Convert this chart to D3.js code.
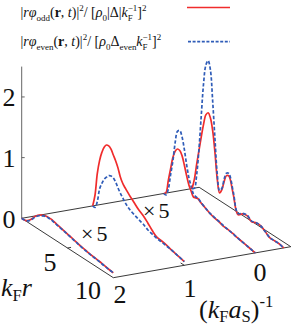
<!DOCTYPE html>
<html>
<head>
<meta charset="utf-8">
<script src="https://cdn.jsdelivr.net/npm/d3@7"></script>
<style>
body { margin: 0; background: #fff; }
svg { display: block; }
text { font-family: "Liberation Serif", "Times New Roman", serif; fill: #111; }
</style>
</head>
<body>
<svg id="chart" width="291" height="325"></svg>
<script>
// kF r samples shared by every slice
const kfr = [0, 0.25, 0.5, 0.75, 1, 1.25, 1.5, 1.75, 2, 2.25, 2.5, 2.75, 3, 3.25, 3.5, 3.75,
	4, 4.5, 5, 5.5, 6, 6.5, 7, 7.5, 8, 8.5, 9, 9.5, 10];

// (kF aS)^-1 of each slice
const slices = [2, 1, 0, -0.4];

// |r phi_odd|^2 (red) and |r phi_even|^2 (blue) per slice
const odd2 = [0, 0, 0.01, 0.04, 0.08, 0.13, 0.18, 0.22, 0.25, 0.27, 0.29, 0.3, 0.3, 0.3, 0.29, 0.28,
	0.27, 0.25, 0.23, 0.21, 0.19, 0.17, 0.155, 0.14, 0.13, 0.12, 0.105, 0.09, 0.08];
const even2 = [0, 0, 0.01, 0.03, 0.07, 0.12, 0.17, 0.21, 0.24, 0.26, 0.28, 0.29, 0.29, 0.29, 0.28, 0.27,
	0.26, 0.245, 0.225, 0.205, 0.185, 0.165, 0.15, 0.135, 0.125, 0.115, 0.1, 0.09, 0.08];
const odd1 = [0, 0.2, 0.58, 0.82, 0.98, 1.09, 1.15, 1.16, 1.13, 1.06, 0.99, 0.9, 0.78, 0.7, 0.65, 0.61,
	0.57, 0.5, 0.43, 0.38, 0.31, 0.23, 0.17, 0.16, 0.145, 0.12, 0.1, 0.08, 0.06];
const even1 = [0, 0, 0.12, 0.35, 0.47, 0.56, 0.62, 0.67, 0.69, 0.68, 0.64, 0.57, 0.51, 0.46, 0.41, 0.37,
	0.34, 0.3, 0.27, 0.24, 0.195, 0.17, 0.15, 0.14, 0.13, 0.12, 0.1, 0.08, 0.06];
const odd0 = [0, 0.04, 0.26, 0.48, 0.69, 0.82, 0.88, 0.88, 0.82, 0.69, 0.54, 0.41, 0.33, 0.26, 0.27, 0.28,
	0.25, 0.21, 0.17, 0.14, 0.13, 0.1, 0.095, 0.08, 0.06, 0.045, 0.03, 0.015, 0];
const even0 = [0, 0, 0.12, 0.38, 0.63, 0.96, 1.17, 1.21, 1.13, 0.95, 0.72, 0.53, 0.41, 0.31, 0.29, 0.29,
	0.26, 0.21, 0.17, 0.15, 0.13, 0.11, 0.09, 0.08, 0.06, 0.045, 0.03, 0.015, 0];
const oddM = [0, 0.18, 0.45, 0.7, 0.95, 1.18, 1.36, 1.42, 1.36, 1.17, 0.83, 0.42, 0.22, 0.3, 0.46, 0.58,
	0.6, 0.34, 0.06, 0.12, 0.14, 0.09, 0.12, 0.12, 0.07, 0.02, 0.02, 0.02, 0];
const evenM = [0, 0.03, 0.28, 0.72, 1.3, 1.85, 2.18, 2.28, 2.15, 1.65, 1.05, 0.5, 0.26, 0.32, 0.5, 0.62,
	0.64, 0.38, 0.08, 0.13, 0.15, 0.1, 0.12, 0.12, 0.07, 0.02, 0.02, 0.02, 0];

const oddSeries = [odd2, odd1, odd0, oddM];
const evenSeries = [even2, even1, even0, evenM];

const zTicks = [0, 1, 2];
const kTicks = [5, 10];
const aTicks = [2, 1, 0];
const scaleNotes = ['\u00d75', '\u00d75'];

const RED = '#f02c2c';
const BLUE = '#2f5cb8';

const svg = d3.select('#chart');

// oblique projection: kF r runs down-right, (kF aS)^-1 runs up-right, value goes up
const origin = [21.7, 218.3];
const kx = d3.scaleLinear().domain([0, 10]).range([0, 91.6]);
const ky = d3.scaleLinear().domain([0, 10]).range([0, 59.4]);
const ax = d3.scaleLinear().domain([2, -0.5]).range([0, 177.5]);
const ay = d3.scaleLinear().domain([2, -0.5]).range([0, -31]);
const zy = d3.scaleLinear().domain([0, 2.5]).range([0, -151.7]);

function project(k, a, z) {
	return [origin[0] + kx(k) + ax(a), origin[1] + ky(k) + ay(a) + zy(z)];
}

// base plane
const corners = [[0, 2], [0, -0.5], [10, -0.5], [10, 2], [0, 2]];
svg.append('path')
	.attr('d', d3.line()(corners.map(c => project(c[0], c[1], 0))))
	.attr('fill', 'none')
	.attr('stroke', '#222')
	.attr('stroke-width', 0.9);

// vertical axis
svg.append('path')
	.attr('d', d3.line()([project(0, 2, 0), project(0, 2, 2.5)]))
	.attr('stroke', '#555')
	.attr('stroke-width', 0.9);

svg.selectAll('.ztick')
	.data(zTicks.filter(d => d > 0))
	.enter()
	.append('line')
	.attr('x1', d => project(0, 2, d)[0])
	.attr('x2', d => project(0, 2, d)[0] + 3)
	.attr('y1', d => project(0, 2, d)[1])
	.attr('y2', d => project(0, 2, d)[1])
	.attr('stroke', '#555')
	.attr('stroke-width', 0.9);

svg.selectAll('.zlabel')
	.data(zTicks)
	.enter()
	.append('text')
	.attr('x', 15.5)
	.attr('y', d => project(0, 2, d)[1] + 9.5)
	.attr('text-anchor', 'end')
	.attr('font-size', 26)
	.text(d => d);

// small ticks on the floor
svg.selectAll('.ktick')
	.data(kTicks.filter(d => d < 10))
	.enter()
	.append('path')
	.attr('d', d => d3.line()([project(d, 2, 0), project(d, 1.95, 0)]))
	.attr('stroke', '#222')
	.attr('stroke-width', 0.9);

svg.selectAll('.atick')
	.data(aTicks.filter(d => d < 2))
	.enter()
	.append('path')
	.attr('d', d => d3.line()([project(10, d, 0), project(9.6, d, 0)]))
	.attr('stroke', '#222')
	.attr('stroke-width', 0.9);

// floor labels
const kLabelPos = {5: [50, 271], 10: [88, 299]};
svg.selectAll('.klabel')
	.data(kTicks)
	.enter()
	.append('text')
	.attr('x', d => kLabelPos[d][0])
	.attr('y', d => kLabelPos[d][1])
	.attr('text-anchor', 'middle')
	.attr('font-size', 26)
	.text(d => d);

const aLabelPos = {2: [120, 303], 1: [190, 297], 0: [260, 281]};
svg.selectAll('.alabel')
	.data(aTicks)
	.enter()
	.append('text')
	.attr('x', d => aLabelPos[d][0])
	.attr('y', d => aLabelPos[d][1])
	.attr('text-anchor', 'middle')
	.attr('font-size', 26)
	.text(d => d);

// rich text helper: parts of [text, style, position, dx]
function rich(sel, parts, size, subDrop) {
	const subSize = size * 0.64;
	const drop = subDrop === undefined ? 0.28 : subDrop;
	let shift = 0;
	parts.forEach(p => {
		const pos = p[2] || 'base';
		const target = pos === 'sub' ? size * drop : pos === 'sup' ? -size * 0.42 : 0;
		const ts = sel.append('tspan')
			.attr('dy', target - shift)
			.attr('font-size', pos === 'base' ? size : subSize)
			.text(p[0]);
		if (p[1] === 'i') ts.attr('font-style', 'italic');
		if (p[1] === 'b') ts.attr('font-weight', 'bold');
		if (p[3]) ts.attr('dx', p[3]);
		shift = target;
	});
}

rich(svg.append('text').attr('x', 1).attr('y', 296), [
	['k', 'i'], ['F', 'n', 'sub'], ['r', 'i']
], 26, 0.2);

rich(svg.append('text').attr('x', 199).attr('y', 318), [
	['(', 'n'], ['k', 'i'], ['F', 'n', 'sub'], ['a', 'i'], ['S', 'n', 'sub'], [')', 'n'], ['-1', 'n', 'sup']
], 26, 0.17);

// curves
const line = d3.line().curve(d3.curveCatmullRom.alpha(0.5));

slices.forEach((a, i) => {
	svg.append('path')
		.attr('d', line(kfr.map((k, j) => project(k, a, oddSeries[i][j]))))
		.attr('fill', 'none')
		.attr('stroke', RED)
		.attr('stroke-width', 1.7);
	svg.append('path')
		.attr('d', line(kfr.map((k, j) => project(k, a, evenSeries[i][j]))))
		.attr('fill', 'none')
		.attr('stroke', BLUE)
		.attr('stroke-width', 1.7)
		.attr('stroke-dasharray', '3.5,2');
});

// x5 notes
const notePos = [[81, 241], [143, 218]];
svg.selectAll('.note')
	.data(scaleNotes)
	.enter()
	.append('text')
	.attr('x', (d, i) => notePos[i][0])
	.attr('y', (d, i) => notePos[i][1])
	.attr('font-size', 22)
	.attr('letter-spacing', 3)
	.text(d => d);

// legend
const leg1 = svg.append('text').attr('x', 20.5).attr('y', 17);
rich(leg1, [
	['|', 'n'], ['r', 'i'], ['\u03c6', 'i'], ['odd', 'n', 'sub'], ['(', 'n'], ['r', 'b'], [', ', 'n'], ['t', 'i'],
	[')|', 'n'], ['2', 'n', 'sup'], ['/ [', 'n'], ['\u03c1', 'i'], ['0', 'n', 'sub'], ['|\u0394|', 'n'],
	['k', 'i'], ['F', 'n', 'sub'], ['\u22121', 'n', 'sup', -5], [']', 'n'], ['2', 'n', 'sup']
], 14);

const leg2 = svg.append('text').attr('x', 20.5).attr('y', 46);
rich(leg2, [
	['|', 'n'], ['r', 'i'], ['\u03c6', 'i'], ['even', 'n', 'sub'], ['(', 'n'], ['r', 'b'], [', ', 'n'], ['t', 'i'],
	[')|', 'n'], ['2', 'n', 'sup'], ['/ [', 'n'], ['\u03c1', 'i'], ['0', 'n', 'sub'], ['\u0394', 'n'],
	['even', 'n', 'sub'], ['k', 'i'], ['F', 'n', 'sub'], ['\u22121', 'n', 'sup', -5], [']', 'n'], ['2', 'n', 'sup']
], 14);

svg.append('line')
	.attr('x1', 187).attr('x2', 230).attr('y1', 7.5).attr('y2', 7.5)
	.attr('stroke', RED).attr('stroke-width', 1.7);
svg.append('line')
	.attr('x1', 188).attr('x2', 230).attr('y1', 41.7).attr('y2', 41.7)
	.attr('stroke', BLUE).attr('stroke-width', 1.7)
	.attr('stroke-dasharray', '3,1.6');
</script>
</body>
</html>
